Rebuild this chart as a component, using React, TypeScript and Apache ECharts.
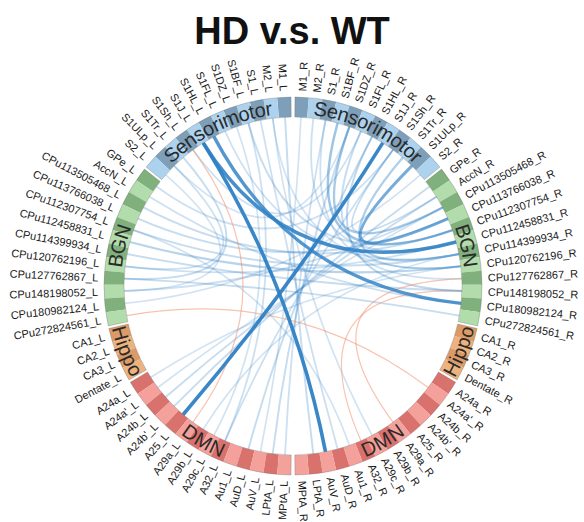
import React, { useEffect, useRef } from "react";
import * as echarts from "echarts";

const chartTitle = "HD v.s. WT";
const groupNames = ["Sensorimotor", "BGN", "Hippo", "DMN"];
const sensorimotor = ["M1", "M2", "S1", "S1BF", "S1DZ", "S1FL", "S1HL", "S1J", "S1Sh", "S1Tr", "S1ULp", "S2"];
const bgn = ["GPe", "AccN", "CPu113505468", "CPu113766038", "CPu112307754", "CPu112458831", "CPu114399934", "CPu120762196", "CPu127762867", "CPu148198052", "CPu180982124", "CPu272824561"];
const hippo = ["CA1", "CA2", "CA3", "Dentate"];
const dmn = ["A24a", "A24a'", "A24b", "A24b'", "A25", "A29a", "A29b", "A29c", "A32", "Au1", "AuD", "AuV", "LPtA", "MPtA"];

// [source, target, strength] — HD > WT (blue)
const positiveEdges: [string, string, number][] = [
  ["S1J_L", "AuV_R", 1.0],
  ["S1J_R", "A25_L", 1.0],
  ["S1J_L", "CPu112458831_R", 0.95],
  ["S1HL_L", "CPu180982124_R", 0.9],
  ["S1ULp_R", "CPu113766038_R", 0.75],
  ["S1BF_R", "CPu112307754_R", 0.55],
  ["S1DZ_R", "CPu113505468_R", 0.5],
  ["S1Tr_R", "CPu114399934_R", 0.45],
  ["S1FL_R", "CPu120762196_R", 0.3],
  ["S1HL_R", "CPu148198052_R", 0.35],
  ["S1Sh_R", "AccN_R", 0.3],
  ["M2_R", "CPu112458831_R", 0.25],
  ["S1_R", "CPu127762867_R", 0.25],
  ["CPu113505468_L", "CPu112307754_R", 0.3],
  ["CPu113766038_L", "CPu113766038_R", 0.3],
  ["CPu112307754_L", "CPu114399934_R", 0.3],
  ["CPu112458831_L", "CPu120762196_R", 0.4],
  ["CPu114399934_L", "CPu148198052_R", 0.3],
  ["CPu120762196_L", "CPu112458831_R", 0.25],
  ["CPu127762867_L", "CPu272824561_R", 0.3],
  ["CPu148198052_L", "CPu113505468_R", 0.25],
  ["CPu180982124_L", "S2_R", 0.2],
  ["GPe_L", "S1Sh_R", 0.25],
  ["AccN_L", "CPu180982124_R", 0.25],
  ["S1Tr_L", "CPu127762867_L", 0.3],
  ["S1ULp_L", "CPu120762196_L", 0.25],
  ["S2_L", "CPu148198052_L", 0.2],
  ["S1Sh_L", "S1FL_R", 0.25],
  ["S1ULp_L", "S1DZ_R", 0.2],
  ["M1_L", "LPtA_R", 0.3],
  ["S1_L", "AuD_R", 0.25],
  ["M2_L", "A29c_R", 0.2],
  ["S1BF_L", "A32_L", 0.25],
  ["S1DZ_L", "A29c_L", 0.2],
  ["AccN_R", "A24b_L", 0.3],
  ["GPe_R", "A24b'_L", 0.3],
  ["S1Sh_R", "A32_L", 0.25],
  ["S1HL_R", "AuD_L", 0.3],
  ["S1DZ_R", "LPtA_L", 0.3],
  ["S1_R", "MPtA_L", 0.25],
  ["M1_R", "AuV_L", 0.2],
  ["CPu113505468_R", "A24a'_L", 0.2],
  ["CPu112307754_L", "Au1_R", 0.2],
  ["S1FL_L", "CPu114399934_R", 0.25],
  ["S1BF_L", "CPu112307754_R", 0.3],
  ["M2_L", "CPu120762196_R", 0.2],
  ["CPu114399934_R", "A29b_L", 0.2],
  ["CPu120762196_R", "A24a_L", 0.2],
];

// HD < WT (orange)
const negativeEdges: [string, string, number][] = [
  ["CPu272824561_L", "A24a'_R", 0.35],
  ["S1Sh_L", "A29a_L", 0.35],
  ["CPu127762867_R", "A29a_R", 0.35],
  ["CPu148198052_R", "A32_R", 0.3],
];

const GROUP_COLORS = [
  ["#7e9fb9", "#add2ee"],
  ["#80b07c", "#b2dcab"],
  ["#dc9a66", "#eeb27e"],
  ["#d9716c", "#f3a19a"],
];

const R_IN = 169;
const R_OUT = 189;
const R_LABEL = 195;
const R_GROUP = 179;
const NODE_SPAN = 4.2;
const GROUP_GAP = 0.8;
const HALF_TOP_GAP = 0.6;

type NodeInfo = { name: string; a0: number; a1: number; angle: number; group: number; k: number; side: "R" | "L" };

function buildNodes(): NodeInfo[] {
  const groups = [sensorimotor, bgn, hippo, dmn];
  const right: NodeInfo[] = [];
  let a = HALF_TOP_GAP;
  groups.forEach((g, gi) => {
    if (gi > 0) a += GROUP_GAP;
    g.forEach((n, k) => {
      right.push({ name: n + "_R", a0: a, a1: a + NODE_SPAN, angle: a + NODE_SPAN / 2, group: gi, k, side: "R" });
      a += NODE_SPAN;
    });
  });
  const left: NodeInfo[] = right.map((r) => ({
    name: r.name.slice(0, -2) + "_L",
    a0: 360 - r.a1,
    a1: 360 - r.a0,
    angle: 360 - r.angle,
    group: r.group,
    k: r.k,
    side: "L",
  }));
  return [...right, ...left];
}

export default function App() {
  const ref = useRef<HTMLDivElement>(null);
  useEffect(() => {
    if (!ref.current) return;
    const chart = echarts.init(ref.current, undefined, { renderer: "svg" });
    const nodes = buildNodes();
    const byName: Record<string, NodeInfo> = {};
    nodes.forEach((n) => (byName[n.name] = n));

    const groupSides: { gi: number; a0: number; a1: number }[] = [];
    (["R", "L"] as const).forEach((side) => {
      groupNames.forEach((_, gi) => {
        const ns = nodes.filter((n) => n.side === side && n.group === gi);
        groupSides.push({ gi, a0: Math.min(...ns.map((n) => n.a0)), a1: Math.max(...ns.map((n) => n.a1)) });
      });
    });

    const edges = [
      ...positiveEdges.map((e) => ({ s: e[0], t: e[1], w: e[2], sign: 1 })),
      ...negativeEdges.map((e) => ({ s: e[0], t: e[1], w: e[2], sign: -1 })),
    ]
      .filter((e) => byName[e.s] && byName[e.t])
      .sort((a, b) => a.w - b.w);

    const canvas = document.createElement("canvas");
    const ctx = canvas.getContext("2d")!;
    const GROUP_FONT = 20;
    const FONT_FAMILY = '"Liberation Sans", Arial, sans-serif';
    ctx.font = `${GROUP_FONT}px ${FONT_FAMILY}`;

    const sectorOf = (api: any, r0: number, r: number, a0: number, a1: number) => {
      const c = api.coord([0, 0]);
      const p0 = api.coord([r, a0]);
      const p1 = api.coord([r, a1]);
      const q0 = api.coord([r0, a0]);
      const rr = Math.hypot(p0[0] - c[0], p0[1] - c[1]);
      const rr0 = Math.hypot(q0[0] - c[0], q0[1] - c[1]);
      let s = Math.atan2(p0[1] - c[1], p0[0] - c[0]);
      let e = Math.atan2(p1[1] - c[1], p1[0] - c[0]);
      if (e < s) e += Math.PI * 2;
      return { cx: c[0], cy: c[1], r0: rr0, r: rr, startAngle: s, endAngle: e, clockwise: true };
    };

    const option: any = {
      animation: false,
      backgroundColor: "#ffffff",
      title: {
        text: chartTitle,
        left: "center",
        top: 7,
        textStyle: { fontSize: 38, fontWeight: "bold", color: "#111", fontFamily: FONT_FAMILY },
      },
      polar: { center: [293, 286], radius: R_OUT },
      angleAxis: {
        type: "value", min: 0, max: 360, startAngle: 90, clockwise: true,
        axisLine: { show: false }, axisTick: { show: false }, axisLabel: { show: false }, splitLine: { show: false },
      },
      radiusAxis: {
        type: "value", min: 0, max: R_OUT,
        axisLine: { show: false }, axisTick: { show: false }, axisLabel: { show: false }, splitLine: { show: false },
      },
      series: [
        {
          type: "custom",
          name: "edges",
          coordinateSystem: "polar",
          silent: true,
          data: edges.map((e) => [R_IN, byName[e.s].angle, byName[e.t].angle, e.w, e.sign]),
          renderItem: (params: any, api: any) => {
            const e = edges[params.dataIndex];
            const p1 = api.coord([R_IN, byName[e.s].angle]);
            const p2 = api.coord([R_IN, byName[e.t].angle]);
            const c = api.coord([0, 0]);
            const w = e.w;
            const stroke =
              e.sign > 0
                ? `rgba(46,128,196,${(0.16 + 0.78 * Math.pow(w, 1.6)).toFixed(3)})`
                : `rgba(242,146,110,${(0.45 + 0.3 * w).toFixed(3)})`;
            return {
              type: "bezierCurve",
              shape: { x1: p1[0], y1: p1[1], x2: p2[0], y2: p2[1], cpx1: c[0], cpy1: c[1] },
              style: { stroke, lineWidth: e.sign > 0 ? 1.2 + 2.4 * w : 1.2, fill: "none", lineCap: "round" },
            };
          },
        },
        {
          type: "custom",
          name: "ring",
          coordinateSystem: "polar",
          silent: true,
          data: nodes.map((n) => [R_OUT, n.angle]),
          renderItem: (params: any, api: any) => {
            const n = nodes[params.dataIndex];
            const col = GROUP_COLORS[n.group][n.k % 2 === 0 ? 0 : 1];
            return {
              type: "sector",
              shape: sectorOf(api, R_IN, R_OUT, n.a0, n.a1),
              style: { fill: col },
            };
          },
        },
        {
          type: "custom",
          name: "groupOutline",
          coordinateSystem: "polar",
          silent: true,
          data: groupSides.map((g) => [R_OUT, (g.a0 + g.a1) / 2]),
          renderItem: (params: any, api: any) => {
            const g = groupSides[params.dataIndex];
            return {
              type: "sector",
              shape: sectorOf(api, R_IN, R_OUT, g.a0, g.a1),
              style: { fill: "none", stroke: "rgba(110,110,110,0.55)", lineWidth: 0.6 },
            };
          },
        },
        {
          type: "custom",
          name: "groupLabels",
          coordinateSystem: "polar",
          silent: true,
          data: groupSides.map((g) => [R_GROUP, (g.a0 + g.a1) / 2]),
          renderItem: (params: any, api: any) => {
            const g = groupSides[params.dataIndex];
            const text = groupNames[g.gi];
            const mid = (g.a0 + g.a1) / 2;
            const upper = mid < 90 || mid > 270;
            const widths = text.split("").map((ch) => ctx.measureText(ch).width);
            const total = widths.reduce((s, v) => s + v, 0);
            const totalDeg = (total / R_GROUP) * (180 / Math.PI);
            const children: any[] = [];
            let acc = 0;
            text.split("").forEach((ch, i) => {
              const offDeg = ((acc + widths[i] / 2) / R_GROUP) * (180 / Math.PI);
              acc += widths[i];
              const th = upper ? mid - totalDeg / 2 + offDeg : mid + totalDeg / 2 - offDeg;
              const p = api.coord([R_GROUP, th]);
              const rot = upper ? (-th * Math.PI) / 180 : ((180 - th) * Math.PI) / 180;
              children.push({
                type: "text",
                x: p[0],
                y: p[1],
                rotation: rot,
                style: {
                  text: ch,
                  fill: "#2a2a2a",
                  fontSize: GROUP_FONT,
                  fontFamily: FONT_FAMILY,
                  align: "center",
                  verticalAlign: "middle",
                },
              });
            });
            return { type: "group", children };
          },
        },
        {
          type: "custom",
          name: "nodeLabels",
          coordinateSystem: "polar",
          silent: true,
          data: nodes.map((n) => [R_LABEL, n.angle]),
          renderItem: (params: any, api: any) => {
            const n = nodes[params.dataIndex];
            const p = api.coord([R_LABEL, n.angle]);
            const right = n.side === "R";
            const rotDeg = right ? 90 - n.angle : 270 - n.angle;
            return {
              type: "text",
              x: p[0],
              y: p[1],
              rotation: (rotDeg * Math.PI) / 180,
              style: {
                text: n.name,
                fill: "#1a1a1a",
                fontSize: 11,
                fontFamily: FONT_FAMILY,
                align: right ? "left" : "right",
                verticalAlign: "middle",
              },
            };
          },
        },
      ],
    };
    chart.setOption(option);
    return () => chart.dispose();
  }, []);
  return <div ref={ref} style={{ position: "fixed", left: 0, top: 0, width: 584, height: 522 }} />;
}
